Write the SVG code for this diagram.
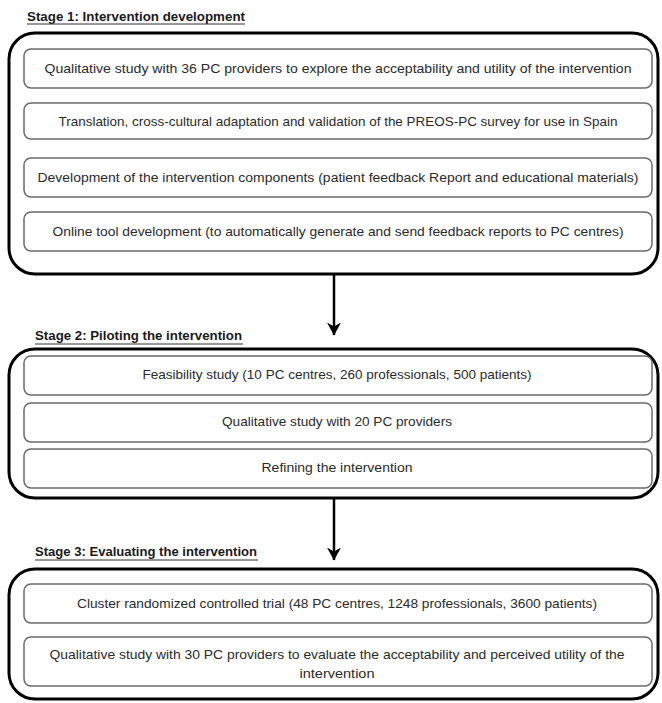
<svg xmlns="http://www.w3.org/2000/svg" width="662" height="703" viewBox="0 0 662 703">
<defs>
<style>
.stage{fill:none;stroke:#000;stroke-width:3}
.item{fill:#fff;stroke:#6a6a6a;stroke-width:1.5}
.t{font-family:"Liberation Sans",Arial,sans-serif;font-size:13px;fill:#2b2b2b;text-anchor:middle}
.title{font-family:"Liberation Sans",Arial,sans-serif;font-size:13px;font-weight:bold;fill:#1a1a1a}
.ul{stroke:#333;stroke-width:1}
.conn{stroke:#000;stroke-width:2.5;fill:none}
</style>
<marker id="ah" viewBox="0 0 13 14" refX="12.5" refY="7" markerWidth="13" markerHeight="14" markerUnits="userSpaceOnUse" orient="auto">
<path d="M0,0 L4,7 L0,14 L13,7 Z" fill="#000"/>
</marker>
</defs>
<rect width="662" height="703" fill="#fff"/>

<g id="stage1">
<text class="title" x="27" y="21" textLength="218" lengthAdjust="spacingAndGlyphs">Stage 1: Intervention development</text>
<line class="ul" x1="27" y1="24" x2="245" y2="24"/>
<rect class="stage" x="9" y="33" width="649" height="241" rx="26"/>
</g>
<g id="s1-n1">
<rect class="item" x="24" y="49" width="628" height="39" rx="7"/>
<text class="t" x="338" y="72.5" textLength="587" lengthAdjust="spacingAndGlyphs">Qualitative study with 36 PC providers to explore the acceptability and utility of the intervention</text>
</g>
<g id="s1-n2">
<rect class="item" x="24" y="103" width="628" height="36" rx="7"/>
<text class="t" x="338" y="125.5" textLength="559" lengthAdjust="spacingAndGlyphs">Translation, cross-cultural adaptation and validation of the PREOS-PC survey for use in Spain</text>
</g>
<g id="s1-n3">
<rect class="item" x="24" y="158" width="628" height="39" rx="7"/>
<text class="t" x="338" y="181.5" textLength="601" lengthAdjust="spacingAndGlyphs">Development of the intervention components (patient feedback Report and educational materials)</text>
</g>
<g id="s1-n4">
<rect class="item" x="24" y="212" width="628" height="39" rx="7"/>
<text class="t" x="338" y="235.5" textLength="571" lengthAdjust="spacingAndGlyphs">Online tool development (to automatically generate and send feedback reports to PC centres)</text>
</g>

<g id="stage2">
<text class="title" x="35" y="340" textLength="207" lengthAdjust="spacingAndGlyphs">Stage 2: Piloting the intervention</text>
<line class="ul" x1="35" y1="344" x2="243" y2="344"/>
<rect class="stage" x="9" y="349" width="649" height="149" rx="26"/>
</g>
<g id="s2-n1">
<rect class="item" x="24" y="356" width="628" height="39" rx="7"/>
<text class="t" x="337" y="378.5" textLength="389" lengthAdjust="spacingAndGlyphs">Feasibility study (10 PC centres, 260 professionals, 500 patients)</text>
</g>
<g id="s2-n2">
<rect class="item" x="24" y="403" width="628" height="39" rx="7"/>
<text class="t" x="337" y="425.5" textLength="230" lengthAdjust="spacingAndGlyphs">Qualitative study with 20 PC providers</text>
</g>
<g id="s2-n3">
<rect class="item" x="24" y="449" width="628" height="39" rx="7"/>
<text class="t" x="337" y="471.5" textLength="151" lengthAdjust="spacingAndGlyphs">Refining the intervention</text>
</g>

<g id="stage3">
<text class="title" x="35" y="556" textLength="222" lengthAdjust="spacingAndGlyphs">Stage 3: Evaluating the intervention</text>
<line class="ul" x1="35" y1="560" x2="258" y2="560"/>
<rect class="stage" x="9" y="569" width="649" height="130" rx="26"/>
</g>
<g id="s3-n1">
<rect class="item" x="24" y="584" width="628" height="39" rx="7"/>
<text class="t" x="337" y="607.5" textLength="520" lengthAdjust="spacingAndGlyphs">Cluster randomized controlled trial (48 PC centres, 1248 professionals, 3600 patients)</text>
</g>
<g id="s3-n2">
<rect class="item" x="24" y="637" width="628" height="49" rx="7"/>
<text class="t" x="337" y="659" textLength="575" lengthAdjust="spacingAndGlyphs">Qualitative study with 30 PC providers to evaluate the acceptability and perceived utility of the</text>
<text class="t" x="337" y="678" textLength="75" lengthAdjust="spacingAndGlyphs">intervention</text>
</g>

<g id="connectors">
<line class="conn" x1="334" y1="275" x2="334" y2="335" marker-end="url(#ah)"/>
<line class="conn" x1="334" y1="499" x2="334" y2="560" marker-end="url(#ah)"/>
</g>
</svg>
